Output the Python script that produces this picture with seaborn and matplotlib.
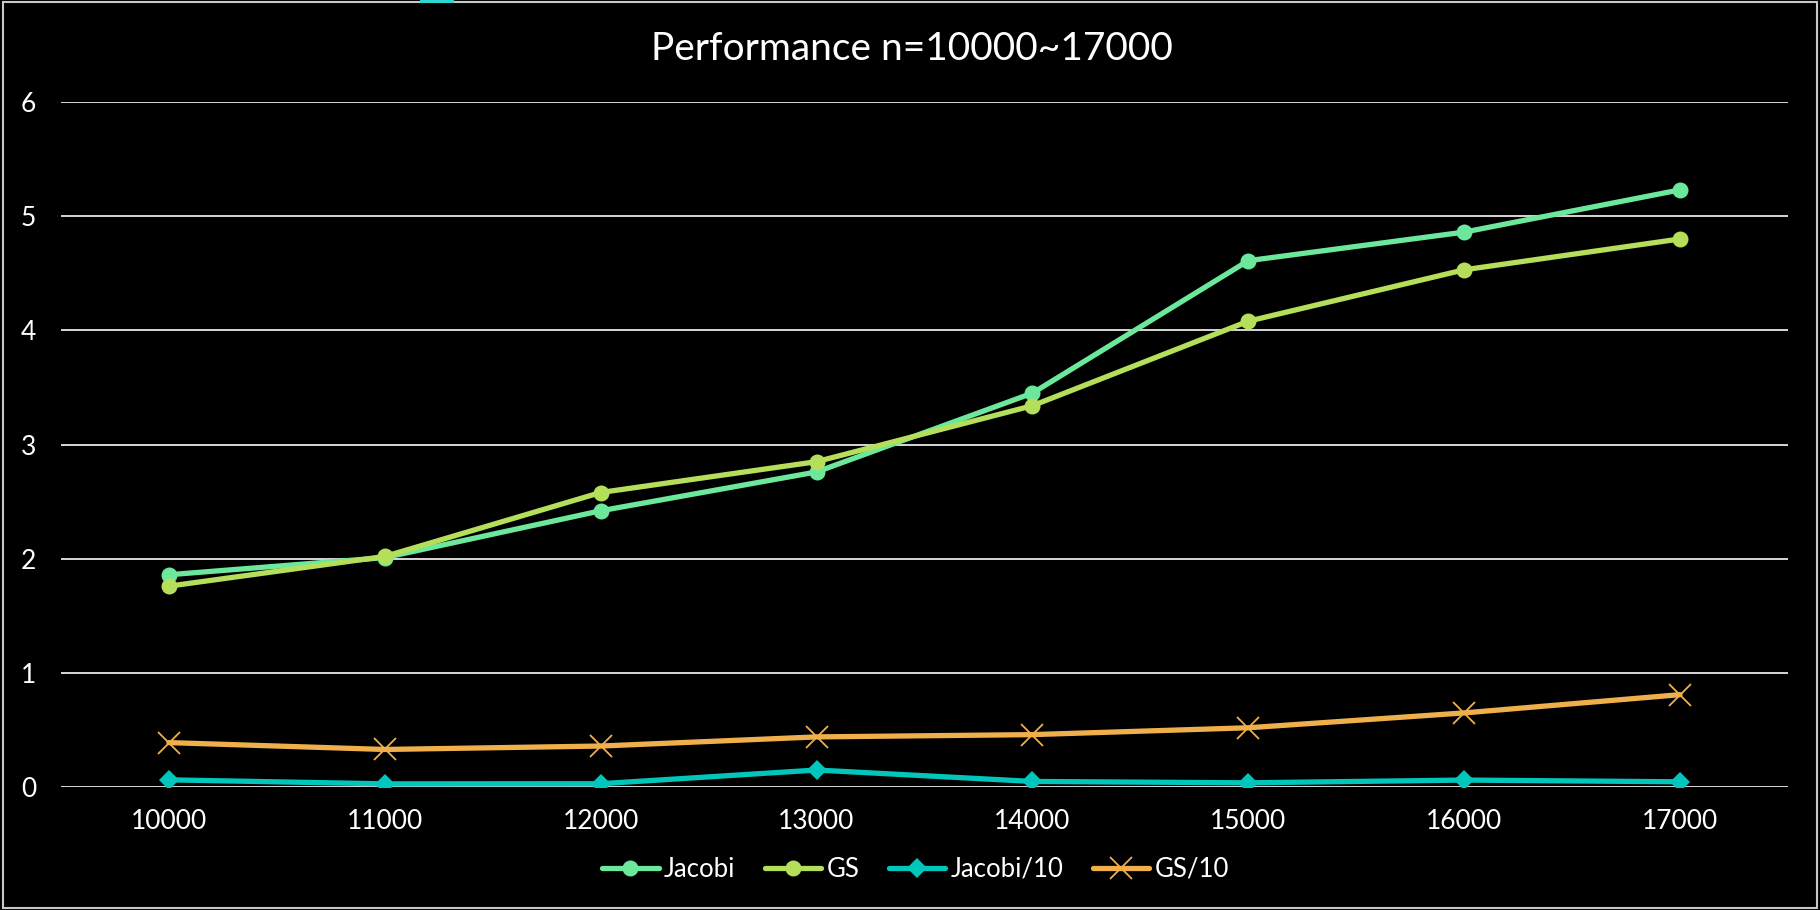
import matplotlib
matplotlib.use("Agg")
import matplotlib.pyplot as plt
from matplotlib.patches import Rectangle
import seaborn as sns
import pandas as pd

# Problem sizes (categorical x axis)
sizes = ["10000", "11000", "12000", "13000", "14000", "15000", "16000", "17000"]

# Measured performance per method
jacobi = [1.86, 2.01, 2.42, 2.76, 3.45, 4.61, 4.86, 5.23]
gs = [1.76, 2.02, 2.58, 2.85, 3.34, 4.08, 4.53, 4.80]
jacobi_10 = [0.064, 0.029, 0.030, 0.150, 0.050, 0.038, 0.062, 0.047]
gs_10 = [0.39, 0.33, 0.36, 0.44, 0.46, 0.52, 0.65, 0.81]

series_names = ["Jacobi", "GS", "Jacobi/10", "GS/10"]
series_values = [jacobi, gs, jacobi_10, gs_10]
y_ticks = [0, 1, 2, 3, 4, 5, 6]

colors = {"Jacobi": "#6BE89C", "GS": "#B5DF5A", "Jacobi/10": "#00C6BC", "GS/10": "#EFB04C"}
styles = {
    "Jacobi": dict(marker="o", markersize=11.5, mew=0),
    "GS": dict(marker="o", markersize=11.5, mew=0),
    "Jacobi/10": dict(marker="D", markersize=10, mew=0),
    "GS/10": dict(marker="x", markersize=15.5, mew=1.3),
}

sns.set_theme(style="dark")
plt.rcParams["font.family"] = ["Lato", "DejaVu Sans"]

fig = plt.figure(figsize=(18.2, 9.1), dpi=100, facecolor="black")
ax = fig.add_axes([61 / 1820, 0.135, (1788 - 61) / 1820, 0.753])
ax.set_facecolor("black")

for name, vals in zip(series_names, series_values):
    df = pd.DataFrame({"n": sizes, "value": vals})
    st = styles[name]
    sns.lineplot(
        data=df, x="n", y="value", ax=ax, sort=False, label=name,
        color=colors[name], linewidth=3.8, marker=st["marker"],
        markersize=st["markersize"], markeredgewidth=st["mew"],
        markeredgecolor=colors[name], markerfacecolor=colors[name],
        solid_capstyle="round", zorder=3,
    )

ax.set_xlim(-0.5, len(sizes) - 0.5)
ax.set_ylim(0, 6)
ax.set_yticks(y_ticks)
ax.set_yticklabels([str(t) for t in y_ticks])
ax.set_xlabel("")
ax.set_ylabel("")
ax.grid(False)
ax.yaxis.grid(True, color="#e8e8e8", linewidth=1.3, zorder=1)
ax.set_axisbelow(True)
for sp in ax.spines.values():
    sp.set_visible(False)
ax.tick_params(axis="both", length=0, colors="white", labelsize=19)
ax.tick_params(axis="y", pad=18)
ax.tick_params(axis="x", pad=16)

ax.get_legend().remove()
handles, labels = ax.get_legend_handles_labels()
fig.legend(
    handles, labels, loc="center", bbox_to_anchor=(0.503, 0.045), ncol=4,
    frameon=False, fontsize=18.5, labelcolor="white", handlelength=2.2,
    handletextpad=0.2, columnspacing=1.15,
)

fig.text(0.501, 0.946, "Performance n=10000~17000", color="white",
         fontsize=28, ha="center", va="center")

# Outer frame of the chart area
fig.patches.append(Rectangle((0.0017, 0.0017), 0.9966, 0.9966, transform=fig.transFigure,
                             fill=False, edgecolor="#c8c8c8", linewidth=1.5))
fig.patches.append(Rectangle((420 / 1820, 1 - 2.5 / 910), 34 / 1820, 2.5 / 910,
                             transform=fig.transFigure, facecolor="#2fd6d0",
                             edgecolor="none"))

fig.savefig("out.png", dpi=100, facecolor="black")
